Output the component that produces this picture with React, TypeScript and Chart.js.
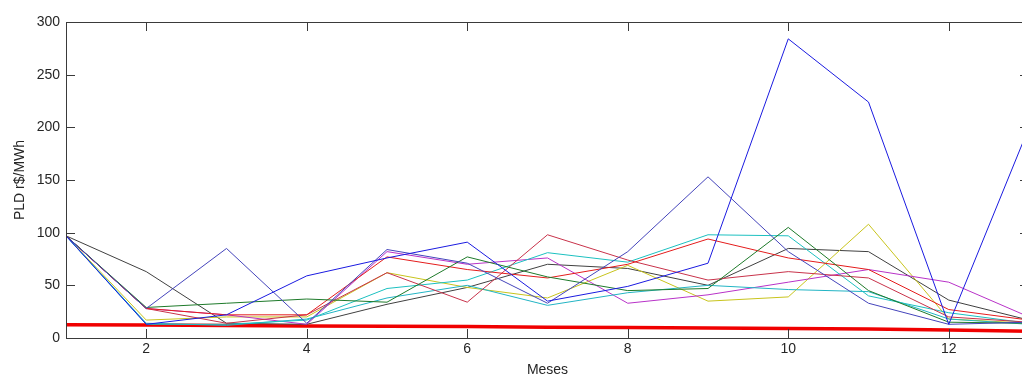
import React, { useEffect, useRef } from "react";
import { Chart, registerables } from "chart.js";

Chart.register(...registerables);

const months = [1, 2, 3, 4, 5, 6, 7, 8, 9, 10, 11, 12, 13];
const xTickValues = [2, 4, 6, 8, 10, 12];
const yTickValues = [0, 50, 100, 150, 200, 250, 300];

const seriesBlue = [97, 13, 22, 59, 76, 91, 35, 49, 71, 284, 224, 13, 200];
const seriesSlate = [97, 28, 85, 14, 84, 71, 33, 82, 153, 82, 33, 13, 15];
const seriesGreen = [97, 29, 33, 37, 34, 77, 58, 45, 47, 105, 45, 15, 14];
const seriesRedA = [97, 28, 22, 22, 77, 65, 57, 70, 94, 76, 65, 27, 17];
const seriesRedB = [97, 28, 14, 22, 62, 34, 98, 74, 55, 63, 57, 20, 15];
const seriesCyanA = [97, 13, 13, 17, 47, 55, 81, 72, 98, 97, 40, 24, 14];
const seriesCyanB = [97, 14, 12, 18, 38, 50, 31, 43, 50, 46, 44, 18, 13];
const seriesMagenta = [97, 28, 22, 13, 82, 70, 76, 33, 41, 53, 65, 53, 20];
const seriesYellow = [97, 17, 20, 20, 62, 48, 38, 69, 35, 39, 108, 18, 14];
const seriesBlack = [97, 63, 14, 13, 32, 48, 70, 66, 50, 85, 82, 36, 17];
const seriesThickRed = [12.5, 12.3, 11.8, 11.5, 11.2, 10.8, 10.3, 10, 9.5, 9, 8.5, 7.5, 6.5];

const FONT = "'Liberation Sans', Arial, sans-serif";
const TEXT = "#262626";
const AXIS = "#3a3a3a";

const boxPlugin = {
  id: "matlabBox",
  afterDatasetsDraw(chart: any) {
    const { ctx, chartArea, scales } = chart;
    const { left, right, top, bottom } = chartArea;
    ctx.save();
    ctx.strokeStyle = AXIS;
    ctx.lineWidth = 1;
    ctx.beginPath();
    ctx.rect(Math.round(left) + 0.5, Math.round(top) + 0.5, Math.round(right - left), Math.round(bottom - top));
    const tl = 9;
    for (const v of xTickValues) {
      const px = Math.round(scales.x.getPixelForValue(v)) + 0.5;
      ctx.moveTo(px, bottom);
      ctx.lineTo(px, bottom - tl);
      ctx.moveTo(px, top);
      ctx.lineTo(px, top + tl);
    }
    for (const v of yTickValues) {
      const py = Math.round(scales.y.getPixelForValue(v)) + 0.5;
      ctx.moveTo(left, py);
      ctx.lineTo(left + tl, py);
      ctx.moveTo(right, py);
      ctx.lineTo(right - tl, py);
    }
    ctx.stroke();
    ctx.restore();
  },
};

function line(data: number[], color: string, width = 1) {
  return {
    data,
    borderColor: color,
    backgroundColor: color,
    borderWidth: width,
    pointRadius: 0,
    tension: 0,
    fill: false,
  };
}

export default function App() {
  const ref = useRef<HTMLCanvasElement>(null);
  useEffect(() => {
    const canvas = ref.current!;
    const chart = new Chart(canvas, {
      type: "line",
      data: {
        labels: months,
        datasets: [
          line(seriesBlue, "#1a1ae0"),
          line(seriesSlate, "#4444bb"),
          line(seriesGreen, "#1e7a2a"),
          line(seriesRedA, "#e41c1c"),
          line(seriesRedB, "#c8324a"),
          line(seriesCyanA, "#1cc0c0"),
          line(seriesCyanB, "#22b4c4"),
          line(seriesMagenta, "#b832c8"),
          line(seriesYellow, "#c8c41c"),
          line(seriesBlack, "#404040"),
          line(seriesThickRed, "#f00000", 3.5),
        ],
      },
      options: {
        animation: false,
        responsive: false,
        devicePixelRatio: 1,
        layout: { padding: { top: 22, right: 11, left: 0, bottom: 0 } },
        plugins: { legend: { display: false }, tooltip: { enabled: false } },
        scales: {
          x: {
            type: "linear",
            min: 1,
            max: 13,
            grid: { display: false, drawTicks: false },
            border: { display: false },
            afterBuildTicks: (s: any) => {
              s.ticks = xTickValues.map((v) => ({ value: v }));
            },
            afterFit: (s: any) => {
              s.height = 41;
            },
            ticks: {
              color: TEXT,
              font: { family: FONT, size: 14 },
              padding: 3,
              maxRotation: 0,
              autoSkip: false,
            },
            title: {
              display: true,
              text: "Meses",
              color: TEXT,
              font: { family: FONT, size: 14 },
              padding: { top: 0, bottom: 0 },
            },
          },
          y: {
            type: "linear",
            min: 0,
            max: 300,
            grid: { display: false, drawTicks: false },
            border: { display: false },
            afterBuildTicks: (s: any) => {
              s.ticks = yTickValues.map((v) => ({ value: v }));
            },
            afterFit: (s: any) => {
              s.width = 66;
            },
            ticks: {
              color: TEXT,
              font: { family: FONT, size: 14 },
              padding: 6,
            },
            title: {
              display: true,
              text: "PLD r$/MWh",
              color: TEXT,
              font: { family: FONT, size: 14 },
              padding: { top: 12, bottom: 0 },
            },
          },
        },
      },
      plugins: [boxPlugin],
    });
    return () => chart.destroy();
  }, []);
  return (
    <div
      style={{
        position: "fixed",
        left: 0,
        top: 0,
        width: 1022,
        height: 379,
        overflow: "hidden",
        background: "#fff",
      }}
    >
      <canvas ref={ref} width={1040} height={379} style={{ display: "block" }} />
    </div>
  );
}
